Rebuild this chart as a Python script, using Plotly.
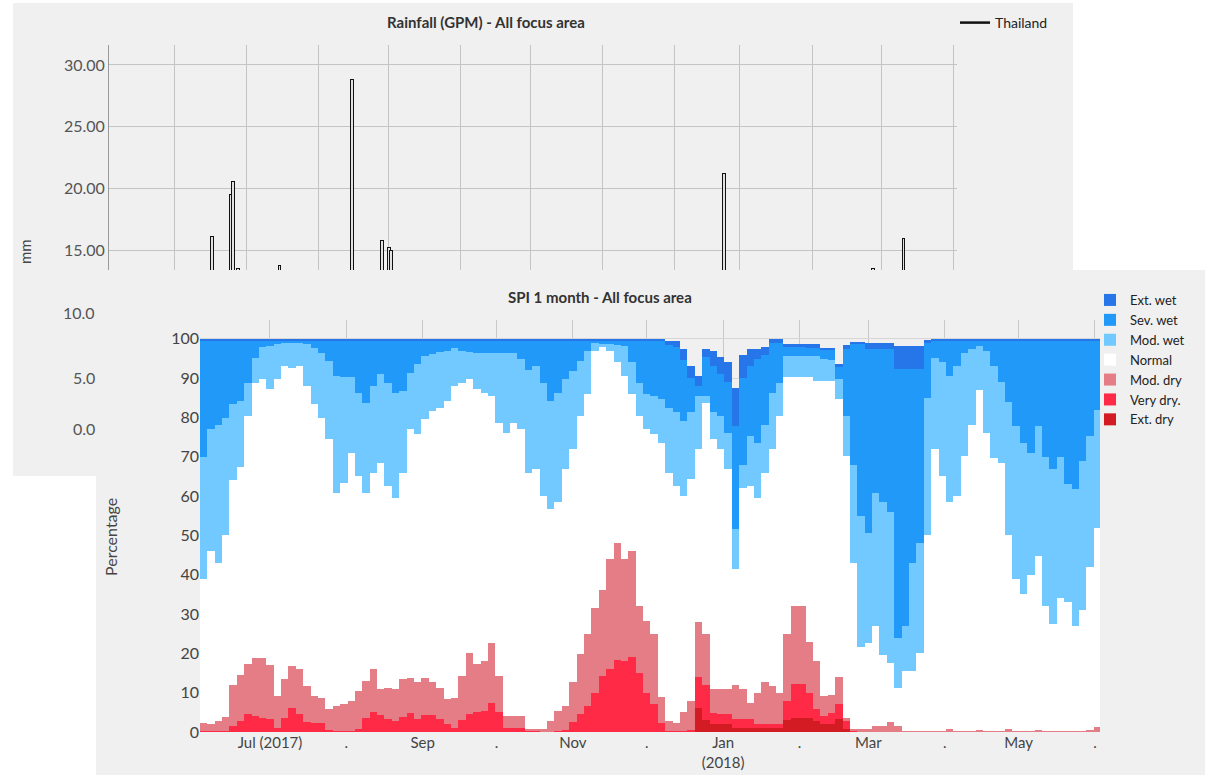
import numpy as np
import pandas as pd
import plotly.graph_objects as go

W, H = 1205, 775


def fx(p):
    return p / W


def fy(p):
    return 1 - p / H


# ---------------- Rainfall (GPM) – daily totals visible above the cut ----------------
rain_dates = ["2017-07-17", "2017-07-25", "2017-07-26", "2017-07-28", "2017-08-15",
              "2017-09-15", "2017-09-28", "2017-10-01", "2017-10-02", "2018-02-22",
              "2018-04-27", "2018-05-10"]
rain_mm = [16.1, 19.5, 20.5, 13.5, 13.7, 28.8, 15.7, 15.2, 14.9, 21.2, 13.5, 15.9]
rain_ticks = [15, 20, 25, 30]
lower_tick_labels = ["10.0", "5.0", "0.0"]

# ---------------- SPI 1 month – 3-day bins, cumulative upper edge of each class (%) ----------------
spi_first_bin = "2017-06-02 12:00"
spi_bin_days = 3

lvl_ext_dry = [0] * 67 + [6, 3, 2, 2, 2, 1.1, 1.1, 1.1, 1.1, 1.1, 1.1, 1.1, 3, 3.6, 3.6, 3.6,
                          2.8, 2, 2, 3.2, 0.7] + [0] * 34

lvl_very_dry = [0.3, 0.3, 0.3, 0.3, 1.5, 2.8, 4.5, 4.1, 3.5, 3.2,
                1.0, 3.5, 6.2, 4.5, 2.5, 2.4, 2.4, 0.5, 0.3, 0.3,
                0.3, 0.8, 3.5, 5, 4.3, 3.2, 2.8, 3.8, 4.9, 3.2,
                4.3, 4.3, 3.2, 2, 1.1, 3, 4.5, 5, 5.3, 7.5,
                5, 1.1, 1.1, 1.1, 0.3, 0.3, 0, 0, 0.3, 0.5,
                2.5, 4.5, 6.6, 10, 14.2, 16, 18.2, 18, 19, 15,
                10, 7, 2.4, 0.3, 0.3, 0.3, 0.5, 14, 12, 4.9,
                4.5, 4.5, 3.2, 3.2, 3.2, 2, 2, 2, 2, 8,
                12.1, 12.1, 10, 5.8, 4.1, 4.9, 7, 2.8, 0.3] + [0] * 33

lvl_mod_dry = [2.2, 2.0, 2.8, 3.8, 12, 14.4, 17.2, 18.9, 18.9, 17,
               9.2, 13.4, 16.8, 15.9, 11.7, 9.2, 8.7, 5.8, 6.6, 7,
               7.9, 10.4, 13, 15.9, 10.9, 11.3, 10.9, 13.4, 13.8, 12.6,
               13.8, 12.6, 11.3, 8.3, 8.7, 14.2, 20.2, 17.2, 18, 22.7,
               14.2, 4, 4.1, 4.1, 0.7, 0.7, 0.7, 2.8, 5.3, 6.5,
               12.6, 19.8, 25, 31.6, 36, 44, 48, 44, 46, 32,
               28.2, 25, 9, 2.8, 2.4, 5, 7.9, 28, 25, 11,
               10.9, 10.9, 12, 10.9, 7.5, 10, 12.6, 11.7, 10, 25,
               32, 32, 23, 18, 9.2, 9.5, 14, 3.5, 0.7, 0.7,
               0.7, 1.5, 1.5, 2.5, 1.5, 0.3, 0.3, 0.3, 0.3, 0.3,
               0.3, 0.8, 0.3, 0.3, 0.3, 0.6, 0.3, 0.3, 0.3, 0.8,
               0.3, 0.3, 0.3, 0.5, 0.3, 0.3, 0.3, 0.3, 0.3, 0.3,
               0.5, 1.2]

lvl_normal = [39, 46, 43, 50, 64, 67.3, 80.4, 88.9, 89.7, 87.2,
              89.7, 93, 92.7, 93.1, 88, 83.4, 80, 74.5, 60.9, 63.4,
              71, 65.1, 60.9, 66, 68.5, 62.6, 59.6, 66, 77, 75.7,
              79.6, 81.7, 82.5, 84.2, 88, 88.9, 89.7, 87.2, 86.3, 85.5,
              78.7, 76, 78.7, 77, 66, 66.8, 60, 56.7, 58.4, 66.8,
              71.9, 80.4, 86, 97, 98, 96.9, 94, 90.6, 86, 80.4,
              77, 75.7, 73.6, 66, 62.6, 60, 64.3, 71.9, 83.8, 74.5,
              71.9, 67, 41.4, 62, 62.6, 59.6, 66, 71.9, 80.4, 90.2,
              90.2, 90.2, 90.2, 89.3, 89.3, 89.3, 84.6, 70.2, 43, 21.5,
              22.7, 27, 19.5, 17.6, 11.3, 15.5, 15.5, 20, 50, 71.9,
              65.1, 58.4, 60, 70.2, 78, 87, 76, 69.8, 68.5, 50,
              38.8, 35, 40, 44.8, 32, 27.5, 34, 33, 27, 31,
              42, 52]

lvl_mod_wet = [70, 77, 78, 80, 83.4, 84.2, 88.9, 95.2, 98, 98.2,
               98.6, 99, 99, 99, 98.6, 97.8, 96.5, 94.4, 90.6, 90.2,
               90.2, 86.3, 83.8, 88, 91, 88.9, 86.3, 86.8, 91.4, 93.6,
               95.7, 96.1, 96.7, 96.9, 97.8, 96.9, 96.7, 96.5, 96.5, 96.3,
               96.3, 96.5, 96.5, 94.8, 92, 93.1, 88.9, 84.2, 86.3, 89.7,
               91.9, 94.4, 96.9, 99, 98.6, 98.6, 98.5, 98.2, 94, 88.9,
               86, 85.5, 84.6, 82.5, 81.3, 79, 81.3, 85.5, 85.5, 81.3,
               80.4, 76, 51.6, 68, 75.3, 73.6, 78, 86.3, 88.9, 95.7,
               95.7, 95.7, 95.7, 95.7, 95, 94.5, 89.7, 80.4, 68, 55,
               50.7, 60.9, 58.4, 56, 24, 27, 43, 48, 85, 95.2,
               94, 90.6, 93.1, 96.5, 97.5, 98.2, 97, 93, 89, 84,
               77.9, 73.6, 71, 77.9, 70, 66.8, 70, 63, 61.7, 69,
               75.3, 82]

lvl_sev_wet = [99.6] * 63 + [98.5, 98, 94.5, 90, 88, 95.5, 93, 91, 89, 77.9,
                             90, 93, 95, 96, 99, 99, 98, 98, 98, 97.8,
                             97.8, 97.4, 97.4, 93, 97.4, 98.8, 98.8, 97.4, 97.4, 97.4,
                             97.4, 92.3, 92.3, 92.3, 92.3, 99] + [99.6] * 23

lvl_ext_wet = [100] * 63 + [99.5, 99.5, 97.5, 93, 90.5, 97.5, 97, 95.5, 94, 87.6,
                            96, 97.4, 97.5, 98, 100, 100, 98.6, 98.6, 98.6, 98.6,
                            98.6, 97.8, 97.8, 93.5, 98.5, 99.2, 99.2, 99, 99, 99,
                            99, 98.2, 98.2, 98.2, 98.2, 99.7] + [100] * 23

spi_classes = ["Ext. dry", "Very dry.", "Mod. dry", "Normal", "Mod. wet", "Sev. wet", "Ext. wet"]
spi_colors = ["#d21b22", "#fe2a46", "#e57d86", "#ffffff", "#72c9ff", "#2199f8", "#2676ea"]

month_ticks = pd.date_range("2017-07-01", "2018-06-01", freq="MS")
month_labels = ["Jul (2017)", ".", "Sep", ".", "Nov", ".", "Jan<br>(2018)", ".", "Mar", ".", "May", "."]
pct_ticks = list(range(0, 101, 10))

# ---------------- build ----------------
levels = np.array([lvl_ext_dry, lvl_very_dry, lvl_mod_dry, lvl_normal,
                   lvl_mod_wet, lvl_sev_wet, lvl_ext_wet], dtype=float)
n = levels.shape[1]
assert all(len(a) == n for a in [lvl_ext_dry, lvl_very_dry, lvl_mod_dry, lvl_normal,
                                 lvl_mod_wet, lvl_sev_wet, lvl_ext_wet])
shares = np.clip(np.diff(np.vstack([np.zeros(n), levels]), axis=0), 0, None)
centers = pd.Timestamp(spi_first_bin) + pd.to_timedelta(
    np.arange(n) * spi_bin_days + spi_bin_days / 2, unit="D")
DAY_MS = 86400000

fig = go.Figure()

fig.add_trace(go.Bar(
    x=pd.to_datetime(rain_dates) + pd.Timedelta(hours=12), y=rain_mm,
    width=DAY_MS * 1.15, marker=dict(color="#e2e2e2", line=dict(color="#111111", width=1.1)),
    showlegend=False, xaxis="x", yaxis="y", name="Thailand"))
fig.add_trace(go.Scatter(
    x=[None], y=[None], mode="lines", line=dict(color="#111111", width=2.5),
    name="Thailand", legend="legend2", xaxis="x", yaxis="y"))

for k, cls in enumerate(spi_classes):
    fig.add_trace(go.Bar(
        x=centers, y=shares[k], name=cls, width=spi_bin_days * DAY_MS,
        marker=dict(color=spi_colors[k], line=dict(width=0)),
        xaxis="x2", yaxis="y2", legend="legend"))

font_family = "Lato, 'Open Sans', sans-serif"

fig.update_layout(
    width=W, height=H, margin=dict(l=0, r=0, t=0, b=0, autoexpand=False),
    paper_bgcolor="#ffffff", plot_bgcolor="#f0f0f0",
    barmode="stack", bargap=0,
    font=dict(family=font_family, color="#444444"),
    xaxis=dict(domain=[fx(109), fx(957)], anchor="y", type="date",
               range=["2017-06-03", "2018-06-02 07:00"], automargin=False,
               tick0="2017-07-01", dtick="M1", showgrid=True, gridcolor="#c4c4c4",
               showticklabels=False, ticks="", zeroline=False),
    yaxis=dict(domain=[fy(270), fy(45)], anchor="x", range=[13.39, 31.62], automargin=False,
               tickvals=rain_ticks, tickformat=".2f", showgrid=True, gridcolor="#c4c4c4",
               showline=True, linecolor="#9a9a9a", zeroline=False, ticks="",
               tickfont=dict(size=16, color="#555555")),
    xaxis2=dict(domain=[fx(200), fx(1100)], anchor="y2", type="date",
                range=["2017-06-02 14:00", "2018-06-03 01:00"], automargin=False,
                tickvals=month_ticks, ticktext=month_labels, showgrid=True,
                gridcolor="#c8c8c8", ticks="", zeroline=False,
                tickfont=dict(size=15, color="#444444")),
    yaxis2=dict(domain=[fy(732), fy(320)], anchor="x2", range=[0, 104.8], automargin=False,
                tickvals=pct_ticks, showgrid=True, gridcolor="#d6d6d6", zeroline=False,
                ticks="", tickfont=dict(size=16, color="#444444")),
    legend=dict(x=fx(1090), y=fy(285), xanchor="left", yanchor="top",
                traceorder="reversed", bgcolor="rgba(0,0,0,0)",
                font=dict(size=13, color="#222222", family=font_family)),
    legend2=dict(x=fx(955), y=fy(7), xanchor="left", yanchor="top",
                 bgcolor="rgba(0,0,0,0)",
                 font=dict(size=14, color="#222222", family=font_family)),
    shapes=[
        dict(type="rect", xref="paper", yref="paper", x0=fx(13), x1=fx(1073),
             y0=fy(476), y1=fy(3), fillcolor="#f0f0f0", line=dict(width=0), layer="below"),
        dict(type="rect", xref="paper", yref="paper", x0=fx(96), x1=1,
             y0=0, y1=fy(270), fillcolor="#f0f0f0", line=dict(width=0), layer="below"),
    ],
)

ann = [
    dict(text="<b>Rainfall (GPM) - All focus area</b>", x=fx(486), y=fy(22),
         font=dict(size=15, color="#333333")),
    dict(text="<b>SPI 1 month - All focus area</b>", x=fx(600), y=fy(297),
         font=dict(size=15, color="#333333")),
    dict(text="mm", x=fx(25), y=fy(252), textangle=-90, font=dict(size=15, color="#444444")),
    dict(text="Percentage", x=fx(110), y=fy(537), textangle=-90,
         font=dict(size=16, color="#444444")),
]
for lbl, ypx in zip(lower_tick_labels, [313, 377, 428]):
    ann.append(dict(text=lbl, x=fx(97), y=fy(ypx), xanchor="right",
                    font=dict(size=16, color="#555555")))
for a in ann:
    a.update(xref="paper", yref="paper", showarrow=False)
    a.setdefault("xanchor", "center")
    a["yanchor"] = "middle"
fig.update_layout(annotations=ann)

fig.write_html("out.html", config={"displayModeBar": False},
               post_script="document.body.style.margin='0';document.body.style.overflow='hidden';")
